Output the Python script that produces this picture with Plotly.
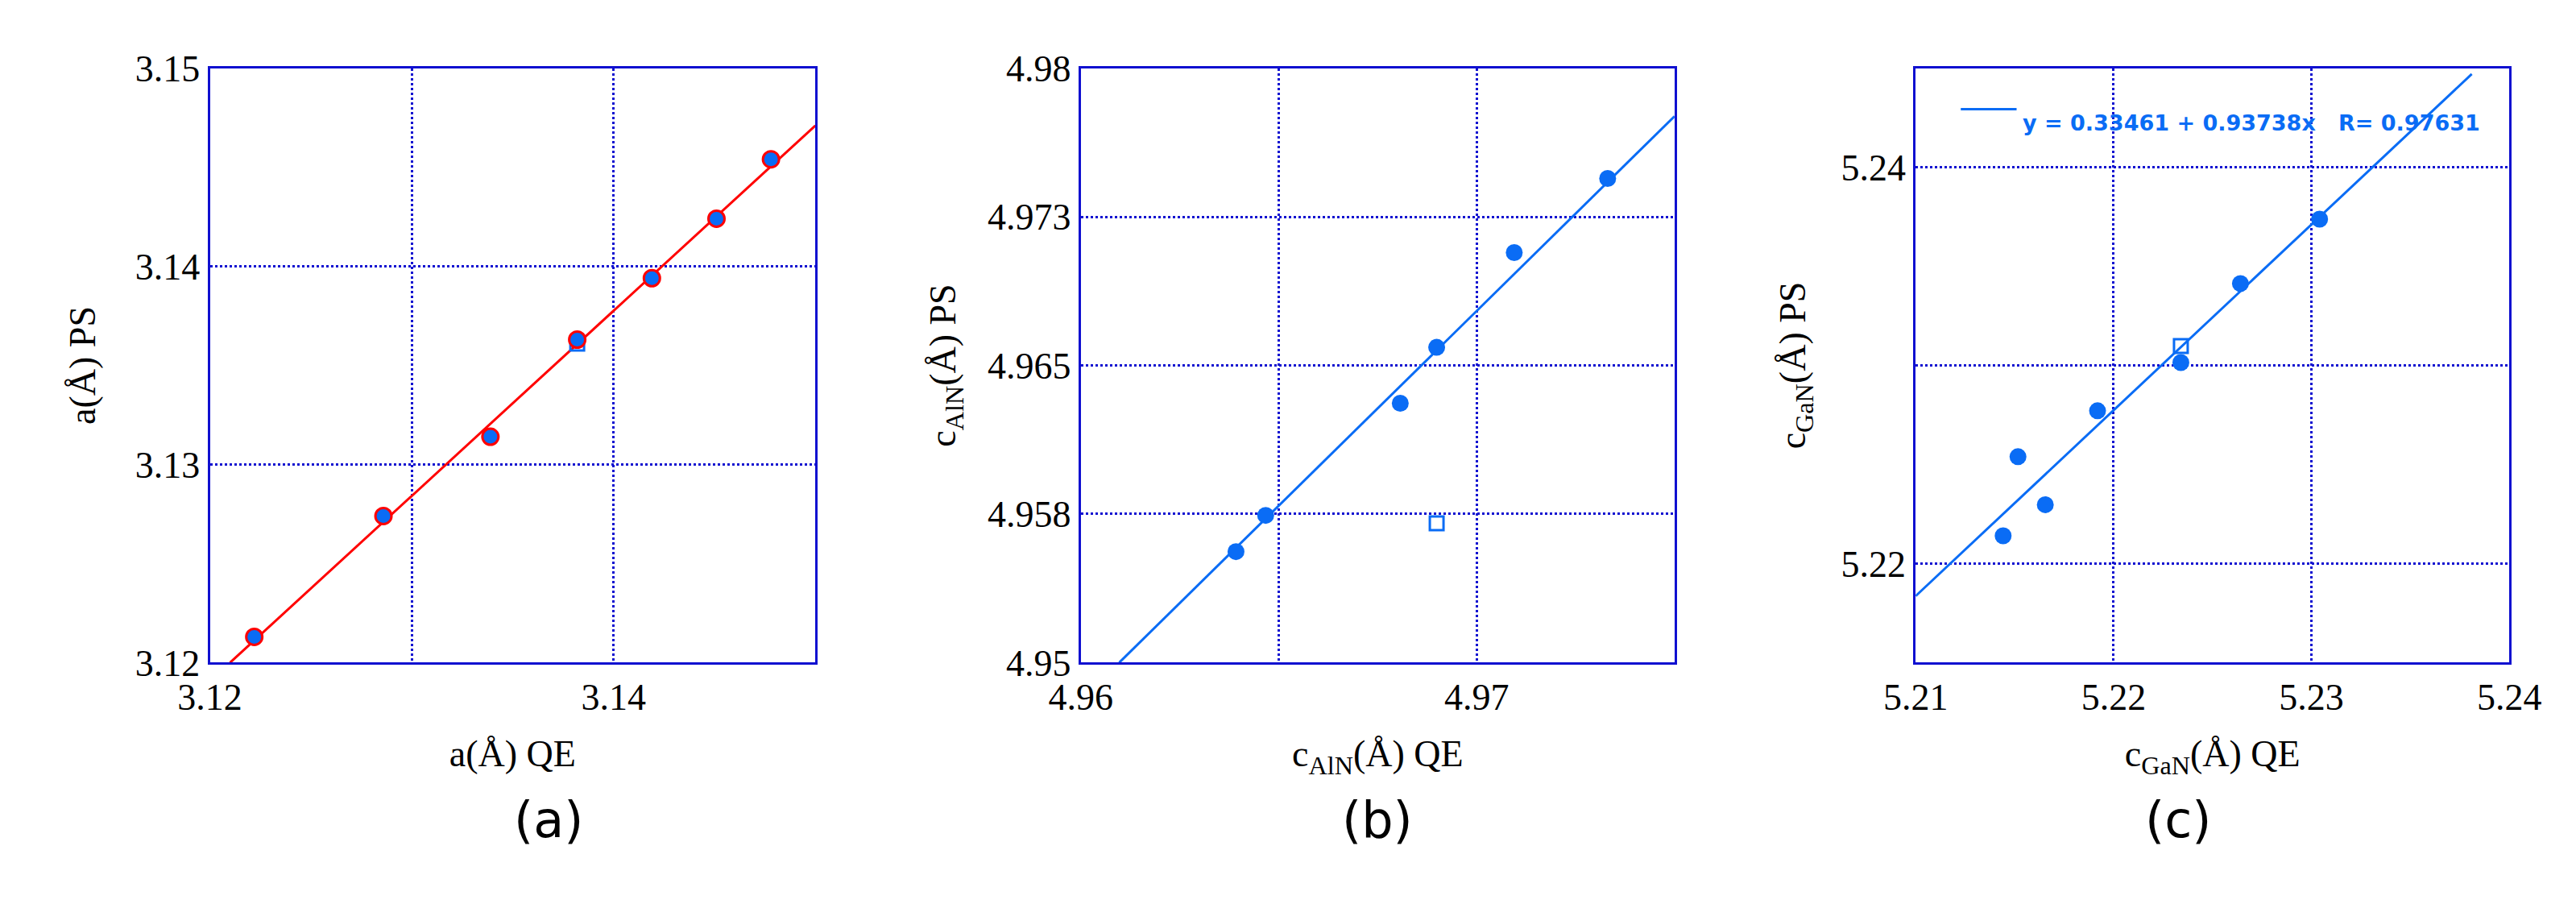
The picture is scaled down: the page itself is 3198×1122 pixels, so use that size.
import plotly.graph_objects as go

# Panel (a)
a_qe = [3.1222, 3.1286, 3.1339, 3.1382, 3.1419, 3.1451, 3.1478]
a_ps = [3.1213, 3.1274, 3.1314, 3.1363, 3.1394, 3.1424, 3.1454]
a_sq_qe = [3.1382]; a_sq_ps = [3.1361]
a_fit_x = [3.1210, 3.1500]; a_fit_y = [3.1200, 3.1471]

# Panel (b)
b_qe = [4.96392, 4.96467, 4.96807, 4.96899, 4.97095, 4.97331]
b_ps = [4.9556, 4.95743, 4.96309, 4.96591, 4.97069, 4.97443]
b_sq_qe = [4.96899]; b_sq_ps = [4.95703]
b_fit_x = [4.96097, 4.9750]; b_fit_y = [4.9500, 4.97757]
b_tickvals = [4.95, 4.9575, 4.965, 4.9725, 4.98]
b_ticktext = ["4.95", "4.958", "4.965", "4.973", "4.98"]

# Panel (c)
c_qe = [5.21442, 5.21517, 5.21655, 5.21919, 5.2234, 5.22641, 5.23041]
c_ps = [5.2214, 5.22539, 5.22297, 5.22771, 5.23014, 5.23413, 5.23738]
c_sq_qe = [5.2234]; c_sq_ps = [5.23097]
c_intercept, c_slope = 0.33461, 0.93738
c_fit_x = [5.21, 5.2381]
c_fit_y = [c_intercept + c_slope * x for x in c_fit_x]
c_legend = "y = 0.33461 + 0.93738x   R= 0.97631"

BLUE = "#0A6CF5"
FRAME = "#1010D0"
W, H = 3198, 1122
boxes = [(218, 989), (1327, 2083), (2390, 3146)]
ytop, ybot = 54, 827
serif = "Liberation Serif"

fig = go.Figure()
def dom(x0, x1): return [x0 / W, x1 / W]
ydom = [1 - ybot / H, 1 - ytop / H]

# a
fig.add_trace(go.Scatter(x=a_fit_x, y=a_fit_y, mode="lines", line=dict(color="red", width=3), xaxis="x", yaxis="y"))
fig.add_trace(go.Scatter(x=a_sq_qe, y=a_sq_ps, mode="markers", marker=dict(symbol="square-open", size=17, color=BLUE, line=dict(width=3)), xaxis="x", yaxis="y"))
fig.add_trace(go.Scatter(x=a_qe, y=a_ps, mode="markers", marker=dict(size=20, color=BLUE, line=dict(color="red", width=3)), xaxis="x", yaxis="y"))
# b
fig.add_trace(go.Scatter(x=b_fit_x, y=b_fit_y, mode="lines", line=dict(color=BLUE, width=3), xaxis="x2", yaxis="y2"))
fig.add_trace(go.Scatter(x=b_sq_qe, y=b_sq_ps, mode="markers", marker=dict(symbol="square-open", size=17, color=BLUE, line=dict(width=3)), xaxis="x2", yaxis="y2"))
fig.add_trace(go.Scatter(x=b_qe, y=b_ps, mode="markers", marker=dict(size=21, color=BLUE), xaxis="x2", yaxis="y2"))
# c
fig.add_trace(go.Scatter(x=c_fit_x, y=c_fit_y, mode="lines", line=dict(color=BLUE, width=3), xaxis="x3", yaxis="y3"))
fig.add_trace(go.Scatter(x=c_sq_qe, y=c_sq_ps, mode="markers", marker=dict(symbol="square-open", size=17, color=BLUE, line=dict(width=3)), xaxis="x3", yaxis="y3"))
fig.add_trace(go.Scatter(x=c_qe, y=c_ps, mode="markers", marker=dict(size=21, color=BLUE), xaxis="x3", yaxis="y3"))

def ax(d, rng, **kw):
    base = dict(domain=d, range=rng, showline=True, mirror=True, linecolor=FRAME, linewidth=3,
                showgrid=True, gridcolor=FRAME, griddash="dot", gridwidth=2.5, zeroline=False,
                ticks="", tickfont=dict(family=serif, size=46, color="black"))
    base.update(kw)
    return base

tf = dict(family=serif, size=46, color="black")
fig.update_layout(
    width=W, height=H, margin=dict(l=0, r=0, t=0, b=0), showlegend=False,
    plot_bgcolor="white", paper_bgcolor="white",
    xaxis=ax(dom(*boxes[0]), [3.12, 3.15], tickvals=[3.12, 3.13, 3.14], ticktext=["3.12", "", "3.14"],
             title=dict(text="a(Å) QE", font=tf, standoff=30), anchor="y"),
    yaxis=ax(ydom, [3.12, 3.15], tickvals=[3.12, 3.13, 3.14, 3.15],
             title=dict(text="a(Å) PS", font=tf, standoff=35), anchor="x"),
    xaxis2=ax(dom(*boxes[1]), [4.96, 4.975], tickvals=[4.96, 4.965, 4.97], ticktext=["4.96", "", "4.97"],
              title=dict(text="c<sub>AlN</sub>(Å) QE", font=tf, standoff=30), anchor="y2"),
    yaxis2=ax(ydom, [4.95, 4.98], tickvals=b_tickvals, ticktext=b_ticktext,
              title=dict(text="c<sub>AlN</sub>(Å) PS", font=tf, standoff=25), anchor="x2"),
    xaxis3=ax(dom(*boxes[2]), [5.21, 5.24], tickvals=[5.21, 5.22, 5.23, 5.24],
              title=dict(text="c<sub>GaN</sub>(Å) QE", font=tf, standoff=30), anchor="y3"),
    yaxis3=ax(ydom, [5.215, 5.245], tickvals=[5.22, 5.23, 5.24], ticktext=["5.22", "", "5.24"],
              title=dict(text="c<sub>GaN</sub>(Å) PS", font=tf, standoff=30), anchor="x3"),
)
for lab, (x0, x1) in zip(["(a)", "(b)", "(c)"], boxes):
    fig.add_annotation(text=lab, x=(x0 + x1) / 2 / W, y=1 - 1072 / H, xref="paper", yref="paper",
                       showarrow=False, font=dict(family="DejaVu Sans", size=62, color="black"))
# legend in panel c
fig.add_shape(type="line", xref="x3 domain", yref="y3 domain", x0=0.076, x1=0.17, y0=0.931, y1=0.931,
              line=dict(color=BLUE, width=3))
fig.add_annotation(text="<b>" + c_legend + "</b>", xref="x3 domain", yref="y3 domain", x=0.178, y=0.931,
                   xanchor="left", showarrow=False, font=dict(family="DejaVu Sans", size=27, color=BLUE))
fig.write_html("out.html")
